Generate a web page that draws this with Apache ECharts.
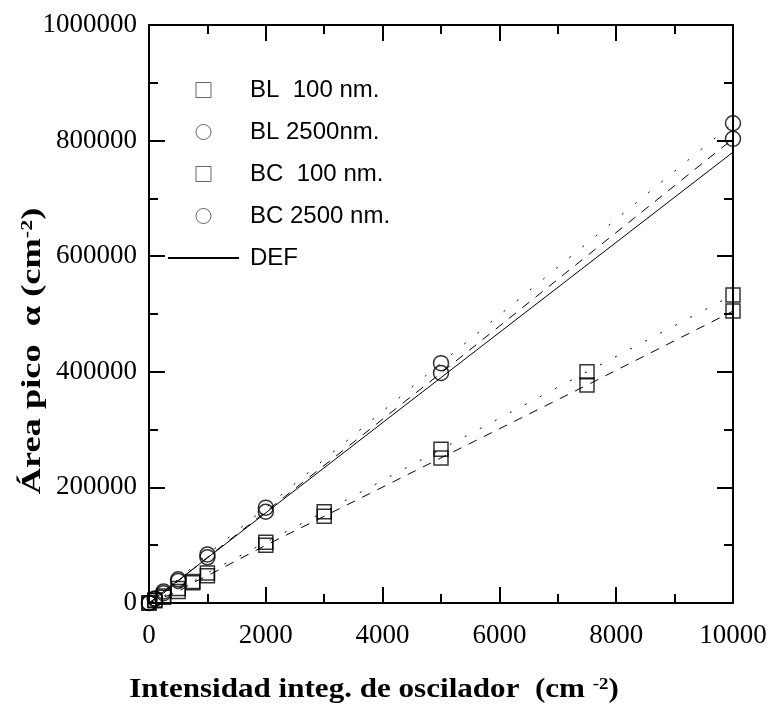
<!DOCTYPE html>
<html>
<head>
<meta charset="utf-8">
<script src="https://cdn.jsdelivr.net/npm/echarts@6/dist/echarts.min.js"></script>
<style>
html,body{margin:0;padding:0;background:#fff;}
#chart{width:770px;height:711px;}
</style>
</head>
<body>
<div id="chart"></div>
<script>
// ---- data ----
var xSquares = [0, 100, 250, 500, 750, 1000, 2000, 3000, 5000, 7500, 10000];
var bl100    = [0, 5000, 12000, 25000, 37000, 52000, 105000, 158000, 266000, 400000, 533000];
var bc100    = [0, 4000, 10000, 20000, 35000, 47000, 100000, 150000, 251000, 377000, 505000];
var xCircles = [0, 100, 250, 500, 1000, 2000, 5000, 10000];
var bl2500   = [0, 8000, 20000, 41000, 84000, 165000, 415000, 830000];
var bc2500   = [0, 7000, 17000, 38000, 79000, 158000, 398000, 803000];
var xDef     = [0, 10000];
var yDef     = [0, 780000];
var legendNames = ['BL  100 nm.', 'BL 2500nm.', 'BC  100 nm.', 'BC 2500 nm.', 'DEF'];
var xTicks = [0, 2000, 4000, 6000, 8000, 10000];
var yTicks = [0, 200000, 400000, 600000, 800000, 1000000];

function pairs(xs, ys){ return xs.map(function(x,i){ return [x, ys[i]]; }); }

var serif = '"Liberation Serif","Times New Roman",serif';
var sans = '"Liberation Sans",Arial,sans-serif';

function axisCommon(showLabel, pos){
  return {
    type: 'value', position: pos,
    axisLine: {show: true, onZero: false, lineStyle: {color: '#000', width: 2}},
    axisTick: {show: true, inside: true, length: 16, lineStyle: {color: '#000', width: 2}},
    minorTick: {show: true, splitNumber: 2, length: 9, lineStyle: {color: '#000', width: 2}},
    splitLine: {show: false},
    axisLabel: {show: showLabel, color: '#000', fontFamily: serif, fontSize: 27,
                formatter: function(v){ return String(v); }}
  };
}

var xBottom = axisCommon(true, 'bottom');
xBottom.min = xTicks[0]; xBottom.max = xTicks[xTicks.length-1]; xBottom.interval = xTicks[1]-xTicks[0];
xBottom.axisLabel.margin = 19;
var xTop = axisCommon(false, 'top');
xTop.min = xBottom.min; xTop.max = xBottom.max; xTop.interval = xBottom.interval;
var yLeft = axisCommon(true, 'left');
yLeft.min = yTicks[0]; yLeft.max = yTicks[yTicks.length-1]; yLeft.interval = yTicks[1]-yTicks[0];
yLeft.axisLabel.margin = 12;
var yRight = axisCommon(false, 'right');
yRight.min = yLeft.min; yRight.max = yLeft.max; yRight.interval = yLeft.interval;

function lineSeries(xs, ys, dash){
  return {
    type: 'line', data: pairs(xs, ys), symbol: 'none', silent: true,
    lineStyle: {color: '#000', width: 1, type: dash}, z: 2
  };
}
function scatterSeries(name, xs, ys, sym){
  return {
    name: name, type: 'scatter', data: pairs(xs, ys), symbol: sym, symbolSize: sym === 'rect' ? 14 : 15,
    itemStyle: {color: 'rgba(255,255,255,0)', borderColor: '#000', borderWidth: 1.5}, z: 3
  };
}

var legendItemStyle = {color: '#fff', borderColor: '#444', borderWidth: 1};
var squareIcon = 'path://M0,0L10,0L10,10L0,10Z';

var option = {
  animation: false,
  backgroundColor: '#fff',
  grid: {left: 149, right: 37, top: 25, bottom: 108, containLabel: false},
  xAxis: [xBottom, xTop],
  yAxis: [yLeft, yRight],
  legend: {
    orient: 'vertical', left: 162, top: 73,
    itemWidth: 71, itemHeight: 15, itemGap: 18,
    textStyle: {fontFamily: sans, fontSize: 24, color: '#000', padding: [0,0,0,6]},
    data: [
      {name: legendNames[0], icon: squareIcon, itemStyle: legendItemStyle},
      {name: legendNames[1], icon: 'circle', itemStyle: legendItemStyle},
      {name: legendNames[2], icon: squareIcon, itemStyle: legendItemStyle},
      {name: legendNames[3], icon: 'circle', itemStyle: legendItemStyle},
      {name: legendNames[4], itemStyle: {color: 'rgba(0,0,0,0)', borderWidth: 0}}
    ]
  },
  series: [
    lineSeries(xSquares, bl100, [2, 15]),
    lineSeries(xSquares, bc100, [9, 8]),
    lineSeries(xCircles, bl2500, [2, 15]),
    lineSeries(xCircles, bc2500, [9, 8]),
    {name: legendNames[4], type: 'line', data: pairs(xDef, yDef), symbol: 'none', showSymbol: false,
     itemStyle: {color: '#000'},
     lineStyle: {color: '#000', width: 1, type: 'solid'}, z: 2},
    scatterSeries(legendNames[0], xSquares, bl100, 'rect'),
    scatterSeries(legendNames[1], xCircles, bl2500, 'circle'),
    scatterSeries(legendNames[2], xSquares, bc100, 'rect'),
    scatterSeries(legendNames[3], xCircles, bc2500, 'circle')
  ],
  graphic: [
    {
      type: 'text', x: 33, y: 351, rotation: Math.PI/2, scaleX: 1.3,
      style: {
        text: '{a|Área pico  α (cm}{s|-2}{a|)}',
        align: 'center', verticalAlign: 'middle',
        rich: {
          a: {fontFamily: serif, fontWeight: 'bold', fontSize: 28, fill: '#000'},
          s: {fontFamily: serif, fontWeight: 'bold', fontSize: 17, fill: '#000', verticalAlign: 'top', padding: [0,0,10,0]}
        }
      }
    },
    {
      type: 'text', x: 374, y: 690, scaleX: 1.11,
      style: {
        text: '{a|Intensidad integ. de oscilador  (cm }{s|-2}{a|)}',
        align: 'center', verticalAlign: 'middle',
        rich: {
          a: {fontFamily: serif, fontWeight: 'bold', fontSize: 28, fill: '#000'},
          s: {fontFamily: serif, fontWeight: 'bold', fontSize: 17, fill: '#000', verticalAlign: 'top', padding: [0,0,10,0]}
        }
      }
    }
  ]
};

var chart = echarts.init(document.getElementById('chart'), null, {renderer: 'canvas'});
chart.setOption(option);
</script>
</body>
</html>
